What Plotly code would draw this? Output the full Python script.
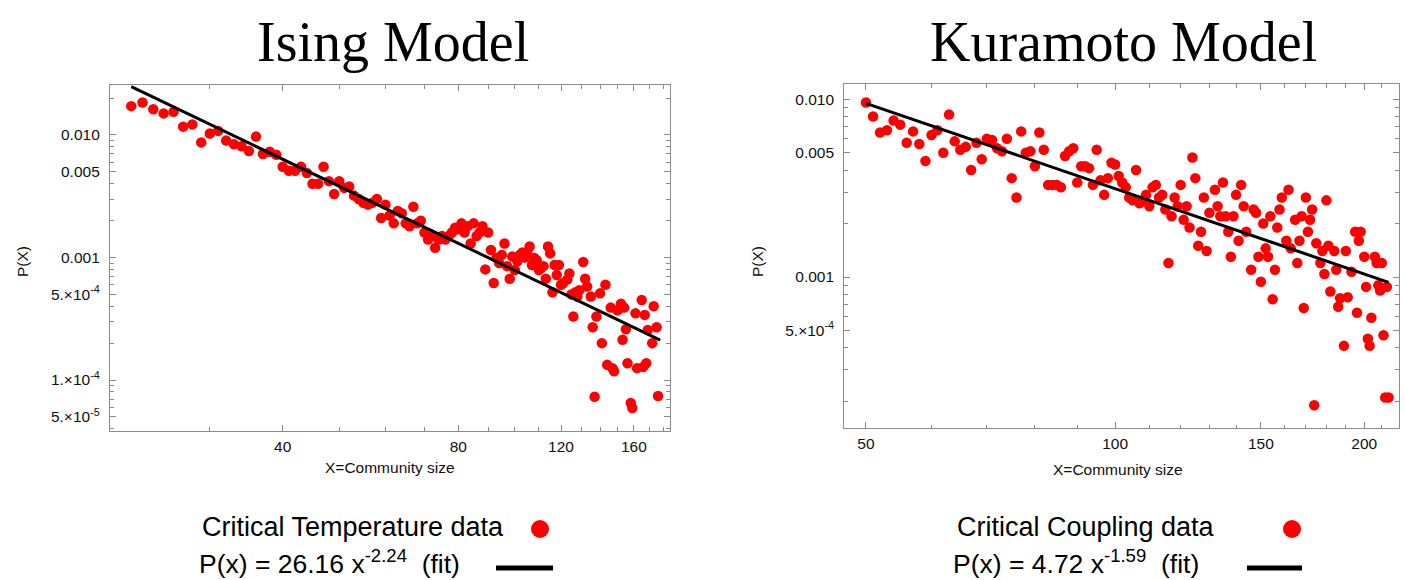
import plotly.graph_objects as go

# ---------------- data ----------------
ising_x = [22, 23, 24, 25, 26, 27, 28, 29, 30, 31, 32, 33, 34, 35, 36, 37, 38, 39, 40, 41,
           42, 43, 44, 45, 46, 47, 48, 49, 50, 51, 52, 53, 54, 55, 56, 57, 58, 59, 60, 61,
           62, 63, 64, 65, 66, 67, 68, 69, 70, 71, 72, 73, 74, 75, 76, 77, 78, 79, 80, 81,
           82, 83, 84, 85, 86, 87, 88, 89, 90, 91, 92, 93, 94, 95, 96, 97, 98, 99, 100, 101,
           102, 103, 104, 105, 106, 107, 108, 109, 110, 111, 112, 113, 114, 115, 116, 117, 118, 119, 120, 121,
           123, 124, 125, 126, 127, 128, 129, 131, 132, 133, 135, 136, 137, 138, 140, 141, 143, 144, 146, 147,
           148, 150, 152, 153, 154, 155, 156, 158, 159, 161, 162, 165, 166, 167, 168, 169, 172, 173, 175, 176]
ising_y = [0.0172, 0.0184, 0.0162, 0.0150, 0.0155, 0.0117, 0.0122, 0.0087, 0.0103, 0.0108,
           0.0090, 0.0084, 0.0081, 0.0074, 0.0097, 0.0070, 0.0073, 0.0069, 0.0055, 0.0051,
           0.0051, 0.0055, 0.0049, 0.0040, 0.0040, 0.0055, 0.0042, 0.0033, 0.0042, 0.0037,
           0.0038, 0.0032, 0.0030, 0.0028, 0.0027, 0.0028, 0.0030, 0.0021, 0.0027, 0.0022,
           0.0019, 0.0024, 0.0023, 0.0019, 0.0018, 0.0026, 0.0019, 0.0020, 0.0016, 0.0014,
           0.0015, 0.0012, 0.0014, 0.0015, 0.0014, 0.0015, 0.0016, 0.00175, 0.0017, 0.0019,
           0.0016, 0.0018, 0.0013, 0.0019, 0.0015, 0.0016, 0.0018, 0.0008, 0.0016, 0.00115,
           0.00062, 0.00099, 0.0009, 0.00105, 0.0013, 0.00085, 0.00067, 0.00102, 0.00079, 0.00093,
           0.00105, 0.0011, 0.0010, 0.0011, 0.00123, 0.00087, 0.00099, 0.00095, 0.00079, 0.00082,
           0.00085, 0.00067, 0.00123, 0.00108, 0.00052, 0.00087, 0.00072, 0.00087, 0.0006, 0.00062,
           0.00066, 0.00074, 0.0005, 0.00033, 0.00052, 0.00048, 0.00054, 0.00092, 0.00067, 0.00058,
           0.00048, 0.00027, 0.000073, 0.00033, 0.00051, 0.0002, 0.0006, 0.000133, 0.00039, 0.000125,
           0.000118, 0.00037, 0.00042, 0.000213, 0.00039, 0.00026, 0.000137, 0.000065, 0.000059, 0.00035,
           0.000125, 0.00045, 0.000128, 0.00034, 0.000137, 0.000256, 0.0002, 0.0004, 0.00027, 0.000074]
ising_fit_x = [22, 177.5]
ising_fit_y = [0.0248, 0.000212]

kura_x = [50, 51, 52, 53, 54, 55, 56, 57, 58, 59, 60, 61, 62, 63, 64, 65, 66, 67, 68, 69,
          70, 71, 72, 73, 74, 75, 76, 77, 78, 79, 80, 81, 82, 83, 84, 85, 86, 87, 88, 89,
          90, 91, 92, 93, 94, 95, 96, 97, 98, 99, 100, 101, 102, 103, 104, 105, 106, 107, 108, 109,
          110, 111, 112, 113, 114, 115, 116, 117, 118, 119, 120, 121, 122, 123, 124, 125, 126, 127, 128, 129,
          130, 132, 133, 134, 135, 136, 137, 138, 139, 140, 141, 142, 143, 144, 146, 147, 148, 149, 150, 151,
          152, 153, 154, 155, 156, 157, 158, 159, 161, 162, 163, 165, 166, 167, 168, 169, 170, 171, 172, 173,
          174, 175, 177, 178, 179, 180, 181, 182, 184, 185, 186, 187, 189, 190, 191, 193, 195, 196, 197, 198,
          200, 201, 202, 203, 204, 206, 207, 208, 209, 210, 211, 212, 213, 214]
kura_y = [0.0096, 0.0080, 0.0065, 0.0067, 0.0076, 0.0072, 0.0057, 0.0066, 0.0056, 0.0045,
          0.0063, 0.0067, 0.0050, 0.0082, 0.0058, 0.0052, 0.0054, 0.0040, 0.0057, 0.0046,
          0.0060, 0.0059, 0.0053, 0.0051, 0.0060, 0.0036, 0.0028, 0.0066, 0.0050, 0.0051,
          0.0042, 0.0065, 0.0052, 0.0033, 0.0033, 0.0033, 0.0032, 0.0048, 0.0051, 0.0053,
          0.0034, 0.0042, 0.0042, 0.0041, 0.0033, 0.0052, 0.0035, 0.0029, 0.0036, 0.0044,
          0.0043, 0.0037, 0.0034, 0.0032, 0.0028, 0.0027, 0.0040, 0.0026, 0.0027, 0.0029,
          0.0025, 0.0032, 0.0033, 0.0028, 0.0029, 0.0024, 0.0012, 0.0022, 0.0028, 0.0025,
          0.0033, 0.0021, 0.0025, 0.0019, 0.0047, 0.0036, 0.0015, 0.0018, 0.0028, 0.0014,
          0.0023, 0.0031, 0.0025, 0.0022, 0.0034, 0.0022, 0.0018, 0.0013, 0.0022, 0.0029,
          0.0016, 0.0033, 0.0025, 0.0018, 0.0011, 0.0024, 0.0023, 0.0013, 0.00094, 0.0020,
          0.00145, 0.0013, 0.0022, 0.00075, 0.0011, 0.0019, 0.0024, 0.0028, 0.0016, 0.0031,
          0.00145, 0.0021, 0.0012, 0.0016, 0.0022, 0.00067, 0.0028, 0.0018, 0.0021, 0.0024,
          0.00019, 0.00155, 0.0012, 0.0014, 0.00104, 0.0027, 0.0015, 0.00083, 0.0014, 0.0011,
          0.00068, 0.00076, 0.00041, 0.0014, 0.00077, 0.00107, 0.0018, 0.00063, 0.0016, 0.0018,
          0.0013, 0.00088, 0.00045, 0.00041, 0.00059, 0.0013, 0.0012, 0.0009, 0.00084, 0.0012,
          0.00047, 0.00021, 0.00088, 0.00021]
kura_fit_x = [50, 214]
kura_fit_y = [0.00949, 0.000934]

ising_xticks = [40, 80, 120, 160]
ising_yticks = [0.01, 0.005, 0.001, 5e-4, 1e-4, 5e-5]
ising_ytext = ["0.010", "0.005", "0.001", "5.×10<sup>-4</sup>", "1.×10<sup>-4</sup>", "5.×10<sup>-5</sup>"]
kura_xticks = [50, 100, 150, 200]
kura_yticks = [0.01, 0.005, 0.001, 5e-4]
kura_ytext = ["0.010", "0.005", "0.001", "5.×10<sup>-4</sup>"]

# ---------------- layout helpers ----------------
W, H = 1405, 580
def fx(p):
    return p / W
def fy(p):
    return 1 - p / H

RED = "#ff0000"
FRAME = "#8c8c8c"
TXT = "#111111"
SANS = "Liberation Sans, Arial, sans-serif"
SERIF = "Liberation Serif, Times New Roman, serif"

def log_minor(lo_exp, hi_exp):
    vals = []
    for e in range(lo_exp, hi_exp + 1):
        for m in range(2, 10):
            vals.append(m * 10.0 ** e)
    return vals

fig = go.Figure()

fig.add_trace(go.Scatter(x=ising_x, y=ising_y, mode="markers",
                         marker=dict(color=RED, size=10.5), xaxis="x", yaxis="y",
                         showlegend=False))
fig.add_trace(go.Scatter(x=ising_fit_x, y=ising_fit_y, mode="lines",
                         line=dict(color="black", width=3), xaxis="x", yaxis="y",
                         showlegend=False))
fig.add_trace(go.Scatter(x=kura_x, y=kura_y, mode="markers",
                         marker=dict(color=RED, size=10.5), xaxis="x2", yaxis="y2",
                         showlegend=False))
fig.add_trace(go.Scatter(x=kura_fit_x, y=kura_fit_y, mode="lines",
                         line=dict(color="black", width=3), xaxis="x2", yaxis="y2",
                         showlegend=False))

def axis_common():
    return dict(type="log", showgrid=False, zeroline=False, showline=True,
                linecolor=FRAME, linewidth=1.2, mirror="allticks",
                ticks="inside", ticklen=6, tickwidth=1, tickcolor=FRAME,
                tickfont=dict(family=SANS, size=15.5, color=TXT))

xa1 = axis_common()
xa1.update(domain=[fx(110), fx(670)], range=[1.306, 2.266], anchor="y",
           tickmode="array", tickvals=ising_xticks, ticktext=[str(v) for v in ising_xticks],
           ticklabelstandoff=1,
           minor=dict(ticks="inside", ticklen=3.5, tickcolor=FRAME, tickmode="array",
                      tickvals=[30, 50, 60, 70, 90, 100, 110, 130, 140, 150, 170, 180]))
ya1 = axis_common()
ya1.update(domain=[fy(431), fy(85)], range=[-4.416, -1.592], anchor="x",
           tickmode="array", tickvals=ising_yticks, ticktext=ising_ytext,
           ticklabelstandoff=6,
           minor=dict(ticks="inside", ticklen=3.5, tickcolor=FRAME, tickmode="array",
                      tickvals=[v for v in log_minor(-5, -2) if v not in ising_yticks]))
xa2 = axis_common()
xa2.update(domain=[fx(844.3), fx(1399)], range=[1.6728, 2.343], anchor="y2",
           tickmode="array", tickvals=kura_xticks, ticktext=[str(v) for v in kura_xticks],
           ticklabelstandoff=1,
           minor=dict(ticks="inside", ticklen=3.5, tickcolor=FRAME, tickmode="array",
                      tickvals=[60, 70, 80, 90, 110, 120, 130, 140, 160, 170, 180, 190, 210]))
ya2 = axis_common()
ya2.update(domain=[fy(428.3), fy(84.3)], range=[-3.851, -1.9156], anchor="x2",
           tickmode="array", tickvals=kura_yticks, ticktext=kura_ytext,
           ticklabelstandoff=6,
           minor=dict(ticks="inside", ticklen=3.5, tickcolor=FRAME, tickmode="array",
                      tickvals=[v for v in log_minor(-4, -2) if v not in kura_yticks]))

annotations = [
    dict(text="Ising Model", x=fx(393), y=fy(42), font=dict(family=SERIF, size=56, color="black")),
    dict(text="Kuramoto Model", x=fx(1123), y=fy(42), font=dict(family=SERIF, size=56, color="black")),
    dict(text="P(X)", x=fx(22), y=fy(262), textangle=-90, font=dict(family=SANS, size=15.5, color=TXT)),
    dict(text="P(X)", x=fx(757), y=fy(262), textangle=-90, font=dict(family=SANS, size=15.5, color=TXT)),
    dict(text="X=Community size", x=fx(390), y=fy(467), font=dict(family=SANS, size=15.5, color=TXT)),
    dict(text="X=Community size", x=fx(1118), y=fy(469), font=dict(family=SANS, size=15.5, color=TXT)),
    dict(text="Critical Temperature data", x=fx(200), y=fy(527), xanchor="left",
         font=dict(family=SANS, size=27, color="black")),
    dict(text="P(x) = 26.16 x<sup>-2.24</sup>  (fit)", x=fx(197), y=fy(562), xanchor="left",
         font=dict(family=SANS, size=26.5, color="black")),
    dict(text="Critical Coupling data", x=fx(955), y=fy(527), xanchor="left",
         font=dict(family=SANS, size=27, color="black")),
    dict(text="P(x) = 4.72 x<sup>-1.59</sup>  (fit)", x=fx(951), y=fy(562), xanchor="left",
         font=dict(family=SANS, size=26.5, color="black")),
]
for a in annotations:
    a.update(xref="paper", yref="paper", showarrow=False)
    a.setdefault("xanchor", "center")
    a.setdefault("yanchor", "middle")

shapes = [
    dict(type="circle", x0=fx(531), x1=fx(549), y0=fy(538), y1=fy(520),
         fillcolor=RED, line=dict(width=0)),
    dict(type="line", x0=fx(496), x1=fx(553), y0=fy(568), y1=fy(568),
         line=dict(color="black", width=5)),
    dict(type="circle", x0=fx(1283), x1=fx(1301), y0=fy(538), y1=fy(520),
         fillcolor=RED, line=dict(width=0)),
    dict(type="line", x0=fx(1247), x1=fx(1302), y0=fy(568), y1=fy(568),
         line=dict(color="black", width=5)),
]
for s in shapes:
    s.update(xref="paper", yref="paper")

fig.update_layout(width=W, height=H, margin=dict(l=0, r=0, t=0, b=0),
                  paper_bgcolor="white", plot_bgcolor="white",
                  xaxis=xa1, yaxis=ya1, xaxis2=xa2, yaxis2=ya2,
                  annotations=annotations, shapes=shapes, showlegend=False)

fig.write_html("out.html", config={"displayModeBar": False},
               post_script="document.body.style.margin='0';document.body.style.overflow='hidden';")
